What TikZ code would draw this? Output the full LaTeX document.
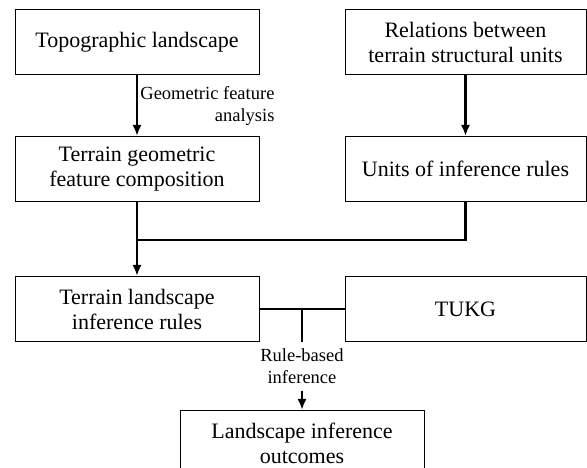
\documentclass[tikz,border=0pt]{standalone}
\usepackage{fontspec}
\setmainfont{Liberation Serif}
\usetikzlibrary{arrows.meta,positioning}

\begin{document}
\begin{tikzpicture}[>={Latex[length=11pt,width=9pt]},x=1pt,y=1pt,node distance=61pt and 85pt,
    box/.style={draw,line width=1pt,minimum width=244pt,minimum height=65pt,align=center,inner sep=2pt,font=\fontsize{22}{25}\selectfont},
    rbox/.style={box,minimum width=241pt},
    lbl/.style={align=center,inner sep=2pt,font=\fontsize{18.5}{22}\selectfont},
    conn/.style={line width=2.8pt}]
    \useasboundingbox (0,0) rectangle (587,468);
    \node[box] (topo) at (137,426) {Topographic landscape};
    \node[rbox] (rel) [right=of topo] {Relations between\\terrain structural units};
    \node[box] (geom) [below=of topo] {Terrain geometric\\feature composition};
    \node[rbox] (units) [below=of rel] {Units of inference rules};
    \node[box] (rules) [below=74pt of geom] {Terrain landscape\\inference rules};
    \node[rbox] (tukg) [right=of rules] {TUKG};
    \path[conn]
    (topo) edge[->] node[lbl,right,align=right] {Geometric feature\\analysis} (geom)
    (rel) edge[->] (units);
    \draw[conn] (geom.south) -- ++(0,-38) coordinate (merge) -| (units.south);
    \draw[conn,->] (merge) -- (rules);
    \draw[conn] (rules) -- coordinate[midway] (tee) (tukg);
    \coordinate (stem) at (tee |- rules.south);
    \draw[conn] (tee) -- (stem);
    \node[box] (outc) [below=68pt of stem] {Landscape inference\\outcomes};
    \node[lbl] (rbi) [below=4pt of stem] {Rule-based\\inference};
    \draw[conn,->,shorten <=6pt] (rbi) -- (outc);
\end{tikzpicture}
\end{document}
